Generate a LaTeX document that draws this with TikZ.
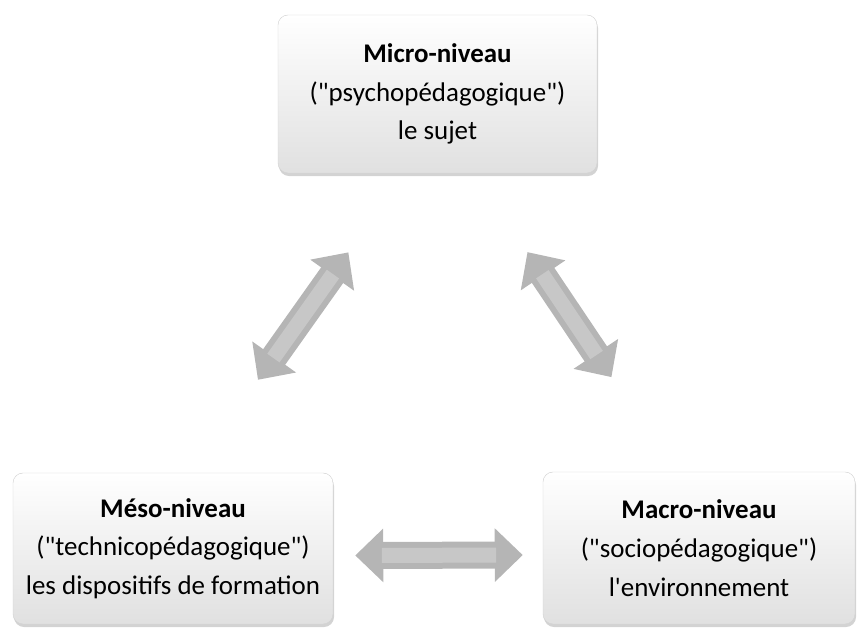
\documentclass[tikz,border=0pt]{standalone}
\usepackage{fontspec}
\setmainfont{Carlito}[Ligatures=TeXOff]
\usetikzlibrary{arrows.meta,shadows}
\newlength\pxu
\setlength\pxu{0.03cm}
\tikzset{
  niveau/.style={rounded corners=10\pxu, draw=gray!35, top color=white, bottom color=gray!24,
    drop shadow={shadow xshift=1\pxu, shadow yshift=-3\pxu, opacity=0.35},
    align=center, inner sep=0pt, font=\fontsize{23}{33}\selectfont},
  bigarrow/.style 2 args={draw=gray!58, line width=27\pxu, shorten <=#1, shorten >=#2,
    {Triangle[length=0.84cm,width=1.56cm]}-{Triangle[length=0.84cm,width=1.56cm]},
    postaction={draw=white, draw opacity=0.25, line width=15\pxu, -, shorten <=#1+0.8cm, shorten >=#2+0.8cm}}
}
\begin{document}
\begin{tikzpicture}[x=1\pxu,y=-1\pxu]
\useasboundingbox (0,0) rectangle (858,631);
\node[niveau, minimum width=319\pxu, minimum height=158\pxu] (micro) at (437.5,94) {\textbf{Micro-niveau}\\("psychopédagogique")\\le sujet};
\node[niveau, minimum width=320\pxu, minimum height=151\pxu] (meso) at (173,548.5) {\textbf{Méso-niveau}\\("technicopédagogique")\\les dispositifs de formation};
\node[niveau, minimum width=312\pxu, minimum height=152\pxu] (macro) at (699,548) {\textbf{Macro-niveau}\\("sociopédagogique")\\l'environnement};
\draw[bigarrow={3.42cm}{2.91cm}] ([xshift=0.57cm]meso.north) -- ([xshift=-0.99cm]micro.south);
\draw[bigarrow={2.85cm}{3.42cm}] ([xshift=1.11cm]micro.south) -- ([xshift=-0.72cm]macro.north);
\draw[bigarrow={0.66cm}{0.6cm}] ([yshift=-0.21cm]meso.east) -- ([yshift=-0.21cm]macro.west);
\end{tikzpicture}
\end{document}
